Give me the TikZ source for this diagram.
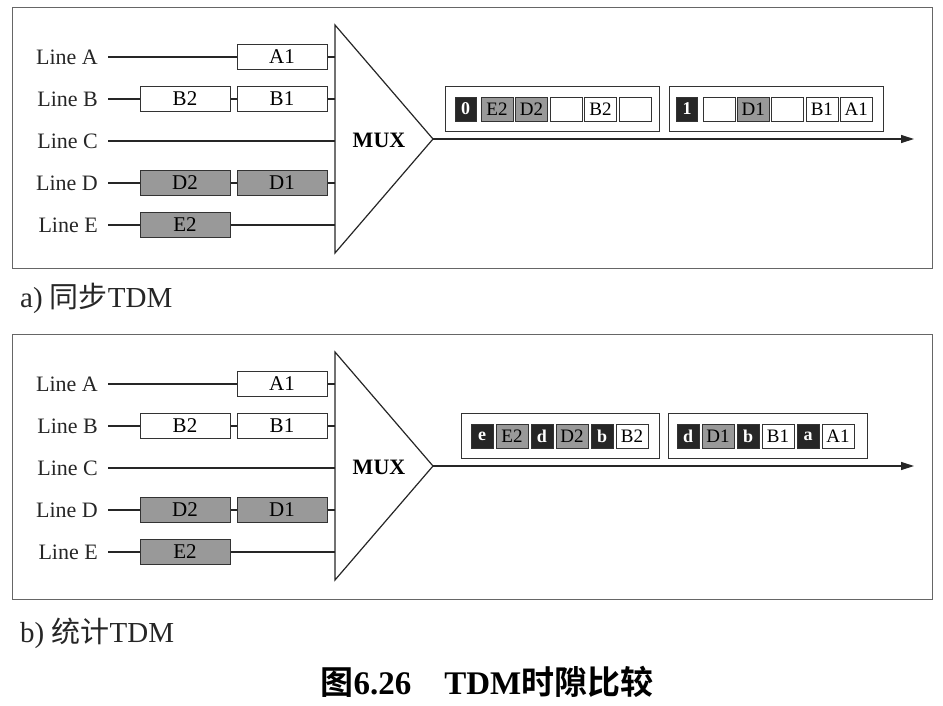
\documentclass[tikz,border=0pt]{standalone}
\usepackage{fontspec}
\setmainfont{Liberation Serif}
\newfontfamily\cjk{Noto Sans CJK SC}[BoldFont={Noto Sans CJK SC Bold}]
\usetikzlibrary{arrows.meta}

\tikzset{
  wire/.style={line width=1.2pt, black!85},
  lbl/.style={anchor=east, inner sep=0pt, text=black!85, font=\fontsize{22}{24}\selectfont},
  cell/.style={draw=black!80, line width=1pt, minimum width=90pt, minimum height=25pt, inner sep=0pt, font=\fontsize{21}{22}\selectfont},
  cellw/.style={cell, fill=white},
  cellg/.style={cell, fill=black!40},
  slot/.style={draw=black!80, line width=0.8pt, minimum height=24pt, inner sep=0pt, font=\fontsize{19}{20}\selectfont},
  slotw/.style={slot, fill=white, minimum width=32pt},
  slotg/.style={slot, fill=black!40, minimum width=32pt},
  flag/.style={slot, fill=black!85, text=white, font=\bfseries\fontsize{18}{18}\selectfont, minimum width=21pt},
  framebox/.style={draw=black!80, line width=0.8pt, minimum height=45pt, inner sep=0pt},
  panel/.style={draw=black!60, line width=1pt},
  muxtext/.style={font=\bfseries\fontsize{22}{22}\selectfont},
  subcap/.style={anchor=west, inner sep=0pt, text=black!85, font=\fontsize{29}{30}\selectfont}
}

% one set of input lines and the multiplexer, #1 = panel tag
\newcommand\feedside[1]{%
  \draw[wire, fill=white] (335,25) coordinate (#1top) -- (433,139) coordinate (#1out)
    -- (335,253) coordinate (#1bot) -- cycle;
  \node[muxtext] (#1mux) at (379,140) {MUX};
  \foreach \n/\y in {A/57,B/99,C/141,D/183,E/225} {
    \node[lbl] (#1l\n) at (98,\y) {Line \n};
    \coordinate (#1i\n) at (335,\y);
    \draw[wire] ([xshift=10pt]#1l\n.east) -- (#1i\n);
  }
  \node[cellw] (#1a1) at (282,57) {A1};
  \node[cellw] (#1b2) at (185,99) {B2};
  \node[cellw] (#1b1) at (282,99) {B1};
  \node[cellg] (#1d2) at (185,183) {D2};
  \node[cellg] (#1d1) at (282,183) {D1};
  \node[cellg] (#1e2) at (185,225) {E2};
  \coordinate (#1end) at (914,139);
  \draw[wire, -{Triangle[length=13pt,width=8pt]}] (#1out) -- (#1end);
}

\begin{document}
\begin{tikzpicture}[x=1pt, y=-1pt]
\useasboundingbox (0,0) rectangle (943,705);

% a) synchronous TDM
\draw[panel] (12,7) rectangle (932,268);
\feedside{p}
\node[framebox, minimum width=214pt] (pf1) at (552,109) {};
\node[framebox, minimum width=214pt] (pf2) at (776,109) {};
\node[flag] (pg1) at (465.5,109) {0};
\foreach \txt/\sty [count=\k from 0] in {E2/slotg, D2/slotg, {}/slotw, B2/slotw, {}/slotw}
  \node[\sty] (ps\k) at ({497+34.5*\k},109) {\txt};
\node[flag] (pg2) at (687,109) {1};
\foreach \txt/\sty [count=\k from 0] in {{}/slotw, D1/slotg, {}/slotw, B1/slotw, A1/slotw}
  \node[\sty] (pt\k) at ({719+34.3*\k},109) {\txt};
\node[subcap] (capa) at (20,298) {a) {\cjk 同步}TDM};

% b) statistical TDM
\draw[panel] (12,334) rectangle (932,599);
\begin{scope}[shift={(0,327)}]
\feedside{q}
\node[framebox, minimum width=198pt] (qf1) at (560,109) {};
\node[framebox, minimum width=199pt] (qf2) at (767.5,109) {};
\foreach \f/\txt/\sty [count=\k from 0] in {e/E2/slotg, d/D2/slotg, b/B2/slotw}{
  \node[flag, minimum width=22pt] (qg\k) at ({482+60*\k},109) {\f};
  \node[\sty] (qs\k) at ({512+60*\k},109) {\txt};
}
\foreach \f/\txt/\sty [count=\k from 0] in {d/D1/slotg, b/B1/slotw, a/A1/slotw}{
  \node[flag, minimum width=22pt] (qh\k) at ({688+60*\k},109) {\f};
  \node[\sty] (qt\k) at ({718+60*\k},109) {\txt};
}
\end{scope}
\node[subcap] (capb) at (20,633) {b) {\cjk 统计}TDM};

% figure caption
\node[font=\bfseries\fontsize{33}{34}\selectfont] (fig) at (487,682) {{\cjk 图}6.26\quad TDM{\cjk 时隙比较}};
\end{tikzpicture}
\end{document}
